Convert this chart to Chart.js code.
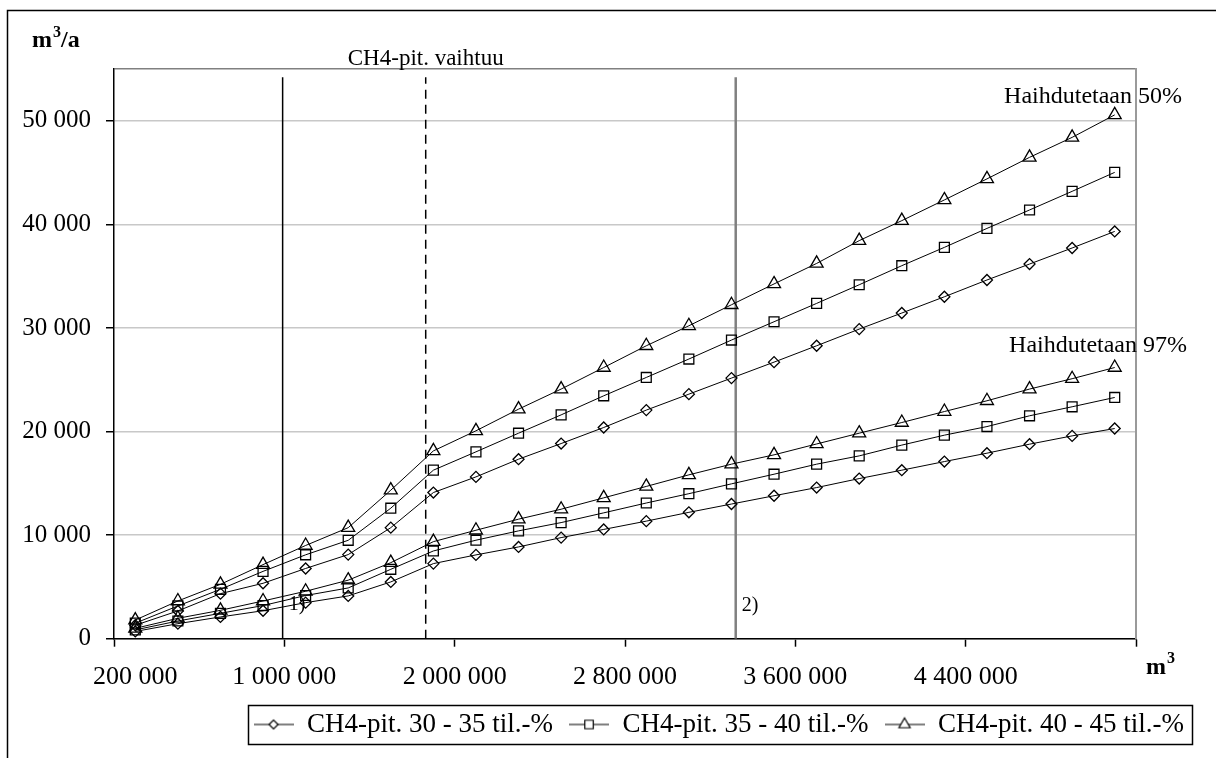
<!DOCTYPE html>
<html>
<head>
<meta charset="utf-8">
<script src="https://cdn.jsdelivr.net/npm/chart.js@4.4.0/dist/chart.umd.min.js"></script>
<style>
html, body { margin: 0; padding: 0; background: #fff; }
#wrap { width: 1216px; height: 758px; position: relative; }
</style>
</head>
<body>
<div id="wrap"><canvas id="c"></canvas></div>
<script>
// kaatopaikan tilavuus (m3), yksi arvo per pistesarake
const volumes = [200000, 400000, 600000, 800000, 1000000, 1250000, 1500000, 1750000,
	2000000, 2200000, 2400000, 2600000, 2800000, 3000000, 3200000, 3400000,
	3600000, 3800000, 4000000, 4200000, 4400000, 4600000, 4800000, 5000000];
const xTickAt = [-0.5, 0, 3.5, 7.5, 11.5, 15.5, 19.5, 23.5];
const xTickText = ["", "200 000", "1 000 000", "2 000 000", "2 800 000", "3 600 000", "4 400 000", ""];
const yTicks = [0, 10000, 20000, 30000, 40000, 50000, 55000];

// Haihdutetaan 50%
const evap50_30 = [1300, 2680, 4350, 5350, 6780, 8120, 10720, 14110, 15620, 17330, 18840, 20390, 22070, 23610, 25160, 26700, 28280, 29890, 31440, 33010, 34630, 36170, 37720, 39320];
const evap50_35 = [1500, 3160, 4770, 6500, 8100, 9500, 12600, 16270, 18040, 19840, 21610, 23450, 25220, 27000, 28830, 30600, 32370, 34170, 36010, 37780, 39610, 41390, 43190, 45020];
const evap50_40 = [1800, 3640, 5250, 7150, 9000, 10720, 14340, 18130, 20070, 22160, 24100, 26180, 28280, 30210, 32240, 34250, 36230, 38430, 40360, 42360, 44390, 46470, 48400, 50570];
// Haihdutetaan 97%
const evap97_30 = [700, 1450, 2100, 2700, 3480, 4130, 5480, 7250, 8090, 8860, 9760, 10550, 11350, 12200, 13000, 13800, 14590, 15460, 16270, 17100, 17910, 18780, 19580, 20290];
const evap97_35 = [850, 1710, 2450, 3200, 4170, 4900, 6700, 8470, 9510, 10410, 11210, 12150, 13100, 14000, 14950, 15880, 16850, 17650, 18690, 19650, 20480, 21520, 22390, 23290];
const evap97_40 = [1000, 1970, 2740, 3640, 4580, 5650, 7340, 9370, 10470, 11540, 12500, 13600, 14700, 15820, 16850, 17750, 18800, 19840, 20870, 21930, 22970, 24100, 25100, 26180];

const seriesNames = ["CH4-pit. 30 - 35 til.-%", "CH4-pit. 35 - 40 til.-%", "CH4-pit. 40 - 45 til.-%"];
// pystyviivat: 1), CH4-pit. vaihtuu, 2)
const splitAt = [3.46, 6.82, 14.1];
const splitTop = 54200;

const FONT = "'Liberation Serif', 'Times New Roman', serif";
const markers = [
	{ style: "rectRot", r: 5.5 },
	{ style: "rect", r: 7 },
	{ style: "triangle", r: 7.5 },
];

const toPoints = (arr) => arr.map((v, i) => ({ x: i, y: v }));
const fmt = (v) => String(v).replace(/\B(?=(\d{3})+(?!\d))/g, " ");

function seriesSet(arr, k, inLegend) {
	return {
		label: seriesNames[k],
		data: toPoints(arr),
		borderColor: "#000",
		borderWidth: 1,
		pointStyle: markers[k].style,
		pointRadius: markers[k].r,
		pointBorderColor: "#000",
		pointBackgroundColor: "rgba(0,0,0,0)",
		pointBorderWidth: 1.3,
		tension: 0,
		fill: false,
		inLegend: inLegend,
	};
}

function vline(x, color, dash, width) {
	return {
		label: "",
		data: [{ x: x, y: 0 }, { x: x, y: splitTop }],
		borderColor: color,
		borderWidth: width,
		borderDash: dash,
		pointRadius: 0,
		fill: false,
		inLegend: false,
	};
}

// legendan symboli: viiva + merkki
function legendIcon(k) {
	const cv = document.createElement("canvas");
	cv.width = 40;
	cv.height = 20;
	const g = cv.getContext("2d");
	g.strokeStyle = "#000";
	g.lineWidth = 1.2;
	g.beginPath();
	g.moveTo(0, 10);
	g.lineTo(40, 10);
	g.stroke();
	g.fillStyle = "#fff";
	Chart.helpers.drawPoint(g, { pointStyle: markers[k].style, radius: markers[k].r - 1, rotation: 0, borderWidth: 1.2 }, 20, 10);
	return cv;
}

const decor = {
	id: "decor",
	beforeDraw(chart) {
		const c = chart.ctx;
		c.save();
		c.fillStyle = "#fff";
		c.fillRect(0, 0, chart.width, chart.height);
		c.strokeStyle = "#000";
		c.lineWidth = 1.5;
		c.beginPath();
		c.moveTo(7.5, chart.height);
		c.lineTo(7.5, 10.5);
		c.lineTo(chart.width, 10.5);
		c.stroke();
		c.restore();
	},
	afterDraw(chart) {
		const c = chart.ctx;
		const xs = chart.scales.x;
		const ys = chart.scales.y;
		const area = chart.chartArea;
		c.save();
		c.fillStyle = "#000";
		c.textBaseline = "alphabetic";

		// akselien otsikot
		c.font = "bold 24px " + FONT;
		c.textAlign = "left";
		c.fillText("m", 32, 47);
		let w = c.measureText("m").width;
		c.font = "bold 16px " + FONT;
		c.fillText("3", 32 + w + 1, 37);
		let w3 = c.measureText("3").width;
		c.font = "bold 24px " + FONT;
		c.fillText("/a", 32 + w + w3 + 1, 47);

		c.fillText("m", area.right + 10, 674);
		w = c.measureText("m").width;
		c.font = "bold 16px " + FONT;
		c.fillText("3", area.right + 10 + w + 1, 663);

		// selitteet
		c.font = "23px " + FONT;
		c.textAlign = "center";
		c.fillText("CH4-pit. vaihtuu", xs.getPixelForValue(splitAt[1]), ys.getPixelForValue(splitTop) - 12);

		c.font = "24px " + FONT;
		c.textAlign = "right";
		c.fillText("Haihdutetaan 50%", area.right + 46, 103);
		c.fillText("Haihdutetaan 97%", area.right + 51, 352);

		c.font = "20px " + FONT;
		c.textAlign = "left";
		c.fillText("1)", xs.getPixelForValue(splitAt[0]) + 6, 610);
		c.fillText("2)", xs.getPixelForValue(splitAt[2]) + 6, 611);

		// legendan kehys
		const lg = chart.legend;
		if (lg && lg.legendHitBoxes && lg.legendHitBoxes.length) {
			const hb = lg.legendHitBoxes;
			const l = Math.min(...hb.map((b) => b.left)) - 6;
			const r = Math.max(...hb.map((b) => b.left + b.width)) + 8;
			const t = Math.min(...hb.map((b) => b.top)) - 6;
			const btm = Math.max(...hb.map((b) => b.top + b.height)) + 6;
			c.strokeStyle = "#000";
			c.lineWidth = 1.5;
			c.strokeRect(Math.round(l) + 0.5, Math.round(t) + 0.5, Math.round(r - l), Math.round(btm - t));
		}
		c.restore();
	},
};

new Chart(document.getElementById("c"), {
	type: "line",
	data: {
		datasets: [
			seriesSet(evap50_30, 0, true),
			seriesSet(evap50_35, 1, true),
			seriesSet(evap50_40, 2, true),
			seriesSet(evap97_30, 0, false),
			seriesSet(evap97_35, 1, false),
			seriesSet(evap97_40, 2, false),
			vline(splitAt[0], "#000", [], 1.5),
			vline(splitAt[1], "#000", [9, 6], 1.5),
			vline(splitAt[2], "#808080", [], 2.5),
		],
	},
	options: {
		responsive: true,
		maintainAspectRatio: false,
		animation: false,
		layout: { padding: { left: 0, top: 69, right: 16, bottom: 10 } },
		plugins: {
			tooltip: { enabled: false },
			legend: {
				position: "bottom",
				align: "end",
				labels: {
					usePointStyle: true,
					pointStyleWidth: 40,
					padding: 16,
					color: "#000",
					font: { family: FONT, size: 27 },
					generateLabels: (chart) =>
						chart.data.datasets
							.map((ds, i) => ({ ds, i }))
							.filter((o) => o.ds.inLegend)
							.map((o) => ({
								text: o.ds.label,
								pointStyle: legendIcon(o.i),
								fillStyle: "#fff",
								strokeStyle: "#000",
								lineWidth: 0,
								hidden: false,
								datasetIndex: o.i,
								fontColor: "#000",
							})),
				},
			},
		},
		scales: {
			x: {
				type: "linear",
				min: -0.5,
				max: 23.5,
				afterBuildTicks: (s) => {
					s.ticks = xTickAt.map((v) => ({ value: v }));
				},
				afterFit: (s) => {
					s.height = 56.3;
				},
				ticks: {
					autoSkip: false,
					maxRotation: 0,
					padding: 15,
					color: "#000",
					font: { family: FONT, size: 26 },
					callback: (v, idx) => xTickText[idx],
				},
				grid: {
					drawOnChartArea: false,
					tickLength: 8,
					tickColor: (ctx) => (ctx.tick && ctx.tick.value === 0 ? "rgba(0,0,0,0)" : "#000"),
					tickWidth: 1.5,
				},
				border: { color: "#000", width: 1.5 },
			},
			y: {
				min: 0,
				max: 55000,
				afterBuildTicks: (s) => {
					s.ticks = yTicks.map((v) => ({ value: v }));
				},
				afterFit: (s) => {
					s.width = 114;
				},
				ticks: {
					padding: 15,
					color: "#000",
					font: { family: FONT, size: 25 },
					callback: (v) => (v > 50000 ? "" : fmt(v)),
				},
				grid: {
					color: (ctx) => (ctx.tick && ctx.tick.value > 50000 ? "#808080" : "#c8c8c8"),
					lineWidth: 1.5,
					tickLength: 8,
					tickColor: (ctx) => (ctx.tick && ctx.tick.value > 50000 ? "rgba(0,0,0,0)" : "#000"),
					tickWidth: 1.5,
				},
				border: { color: "#000", width: 1.5 },
			},
			yr: {
				position: "right",
				min: 0,
				max: 55000,
				afterFit: (s) => {
					s.width = 64;
				},
				ticks: { display: false },
				grid: { display: false, drawTicks: false },
				border: { display: true, color: "#9a9a9a", width: 2 },
			},
		},
	},
	plugins: [decor],
});
</script>
</body>
</html>
